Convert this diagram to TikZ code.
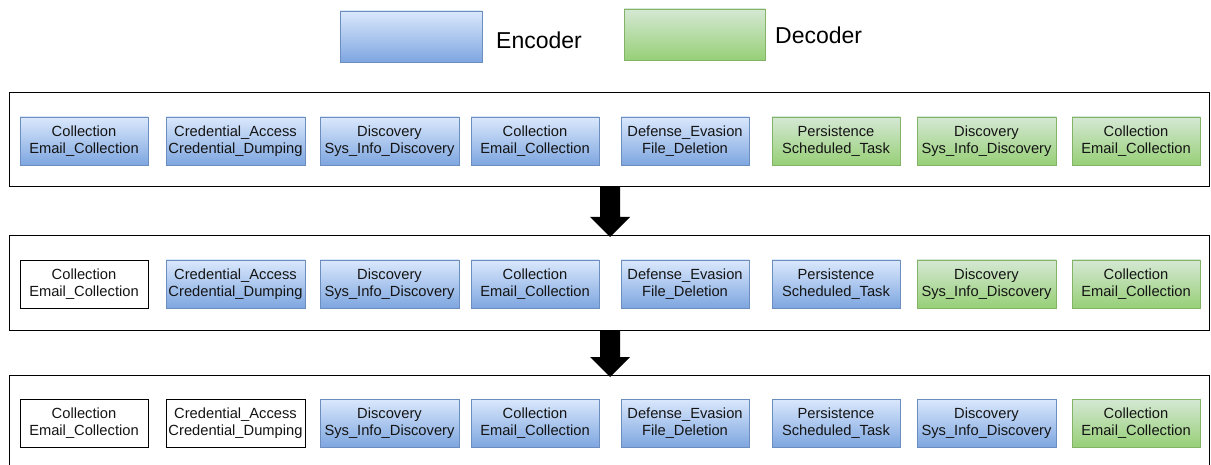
\documentclass[tikz,border=0pt]{standalone}
\usepackage{fontspec}
\setmainfont{Liberation Sans}
\definecolor{encTop}{HTML}{DAE8FC}
\definecolor{encBot}{HTML}{7EA6E0}
\definecolor{encLine}{HTML}{6C8EBF}
\definecolor{decTop}{HTML}{D5E8D4}
\definecolor{decBot}{HTML}{97D077}
\definecolor{decLine}{HTML}{82B366}
\definecolor{txt}{HTML}{141414}
\begin{document}
\begin{tikzpicture}[x=1pt,y=-1pt,
  cell/.style={rectangle, minimum height=48pt, inner sep=0pt, align=center,
    font=\fontsize{14.7}{17}\selectfont, text=txt, line width=0.9pt},
  enc/.style={cell, draw=encLine, top color=encTop, bottom color=encBot},
  dec/.style={cell, draw=decLine, top color=decTop, bottom color=decBot},
  plain/.style={cell, draw=black, fill=white},
  frame/.style={draw=black, line width=1pt},
  blockarrow/.style={fill=black},
  legendtxt/.style={font=\fontsize{23}{26}\selectfont, anchor=west, inner sep=0pt}
]
\useasboundingbox (0,0) rectangle (1211,465);
% legend
\node[enc, minimum width=142pt, minimum height=51pt] (lenc) at (411,36.5) {};
\node[legendtxt] (lenctxt) at (496,40) {Encoder};
\node[dec, minimum width=141pt, minimum height=51pt] (ldec) at (694.5,34.5) {};
\node[legendtxt] (ldectxt) at (775,35) {Decoder};
% frames
\draw[frame] (9,93) rectangle (1209,187);
\draw[frame] (9,236) rectangle (1209,330);
\draw[frame] (9,470) -- (9,375) -- (1209,375) -- (1209,470);
% cells
\foreach \r/\y/\np/\ne in {1/141/0/5, 2/284/1/6, 3/423/2/7} {
  \foreach \i/\x/\w/\t in {
    1/84/128/{Collection\\Email\_Collection},
    2/235.5/139/{Credential\_Access\\Credential\_Dumping},
    3/389.5/139/{Discovery\\Sys\_Info\_Discovery},
    4/535/128/{Collection\\Email\_Collection},
    5/685/128/{Defense\_Evasion\\File\_Deletion},
    6/836/128/{Persistence\\Scheduled\_Task},
    7/986.5/139/{Discovery\\Sys\_Info\_Discovery},
    8/1136/128/{Collection\\Email\_Collection}} {
    \ifnum\i>\np
      \ifnum\i>\ne \def\st{dec}\else\def\st{enc}\fi
    \else
      \def\st{plain}%
    \fi
    \node[\st, minimum width=\w pt] (n\r\i) at (\x,\y) {\t};
  }
}
% block arrows
\coordinate (a1top) at (610,187);
\coordinate (a1tip) at (610,237);
\coordinate (a2top) at (610,330);
\coordinate (a2tip) at (610,377);
\fill[blockarrow] ([xshift=-10pt]a1top) -- ([xshift=-10pt,yshift=20pt]a1tip) -- ([xshift=-20pt,yshift=20pt]a1tip)
  -- (a1tip) -- ([xshift=20pt,yshift=20pt]a1tip) -- ([xshift=10pt,yshift=20pt]a1tip) -- ([xshift=10pt]a1top) -- cycle;
\fill[blockarrow] ([xshift=-10pt]a2top) -- ([xshift=-10pt,yshift=20pt]a2tip) -- ([xshift=-20pt,yshift=20pt]a2tip)
  -- (a2tip) -- ([xshift=20pt,yshift=20pt]a2tip) -- ([xshift=10pt,yshift=20pt]a2tip) -- ([xshift=10pt]a2top) -- cycle;
\end{tikzpicture}
\end{document}
